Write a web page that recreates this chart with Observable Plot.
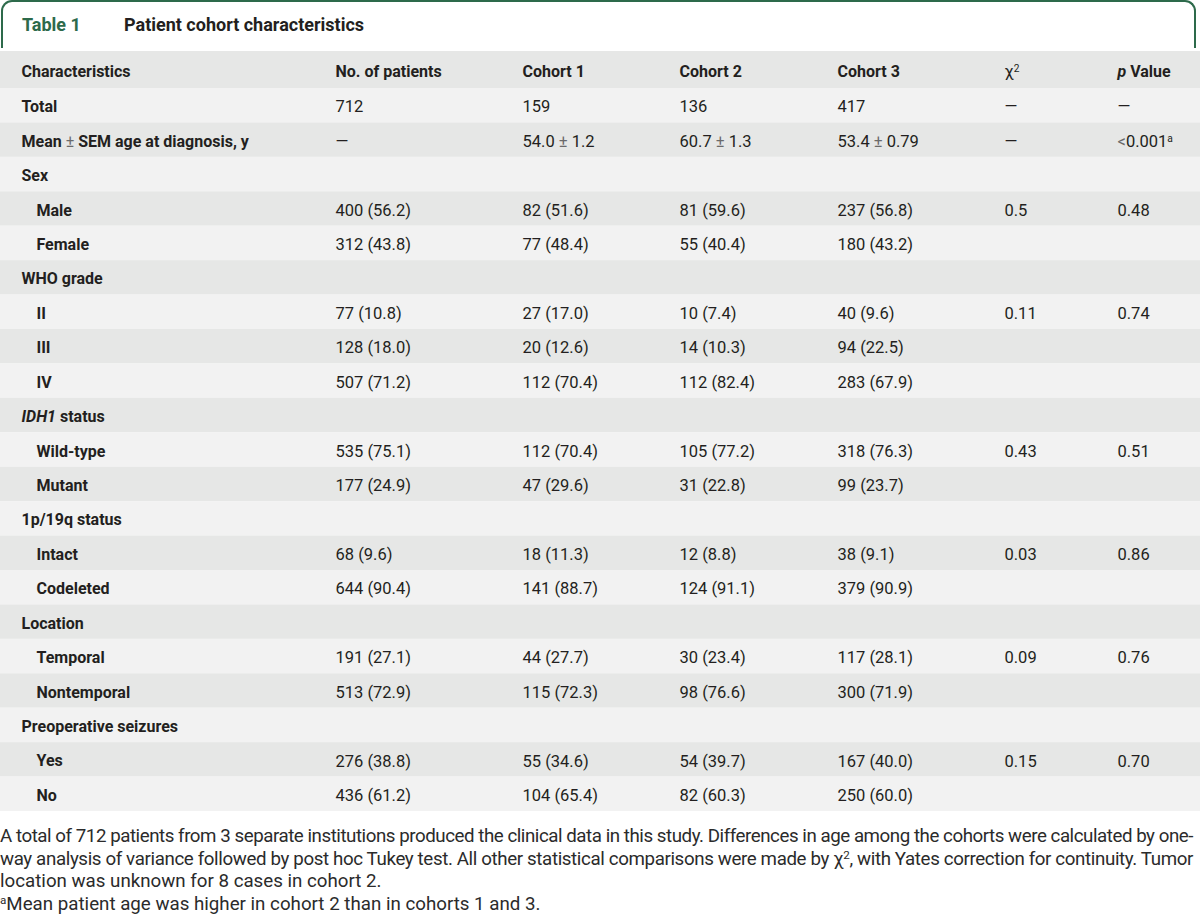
<!DOCTYPE html>
<html>
<head>
<meta charset="utf-8">
<script src="https://cdn.jsdelivr.net/npm/d3@7"></script>
<script src="https://cdn.jsdelivr.net/npm/@observablehq/plot@0.6"></script>
<style>
  html, body { margin: 0; padding: 0; background: #ffffff; }
  body { width: 1200px; font-family: Roboto, "Liberation Sans", sans-serif; color: #231f20; }
  #title {
    box-sizing: border-box; height: 48px; margin: 0 4px 0 1px;
    border: 2.5px solid #2d6a4b; border-bottom: none; border-radius: 11px 11px 0 0;
    position: relative; font-weight: 700; font-size: 18px;
  }
  #title .num { position: absolute; left: 19px; top: 12px; color: #2d6a4b; }
  #title .name { position: absolute; left: 121px; top: 12px; color: #231f20; }
  #header { margin-top: 3px; }
  svg { display: block; }
  #caption { margin-top: 14px; width: 1194px; font-size: 18px; line-height: 22.5px; color: #2b2b2b; }
  #caption div { white-space: nowrap; }
  #caption sup { font-size: 0.62em; line-height: 0; vertical-align: 0.55em; }
</style>
</head>
<body>
<div id="title"><span class="num">Table 1</span><span class="name">Patient cohort characteristics</span></div>
<div id="header"></div>
<div id="body"></div>
<div id="caption">
  <div><span class="fit" id="l1">A total of 712 patients from 3 separate institutions produced the clinical data in this study. Differences in age among the cohorts were calculated by one-</span></div>
  <div><span class="fit">way analysis of variance followed by post hoc Tukey test. All other statistical comparisons were made by χ<sup>2</sup>, with Yates correction for continuity. Tumor</span></div>
  <div><span id="l3">location was unknown for 8 cases in cohort 2.</span></div>
  <div><span><sup>a</sup>Mean patient age was higher in cohort 2 than in cohorts 1 and 3.</span></div>
</div>
<script>
// ---------- data ----------
const columns = ["Characteristics", "No. of patients", "Cohort 1", "Cohort 2", "Cohort 3", "χ²", "p Value"];
const characteristics = ["Total", "Mean ± SEM age at diagnosis, y", "Sex", "Male", "Female", "WHO grade", "II", "III", "IV",
  "IDH1 status", "Wild-type", "Mutant", "1p/19q status", "Intact", "Codeleted", "Location", "Temporal", "Nontemporal",
  "Preoperative seizures", "Yes", "No"];
const level = [0, 0, 0, 1, 1, 0, 1, 1, 1, 0, 1, 1, 0, 1, 1, 0, 1, 1, 0, 1, 1];
const noOfPatients = ["712", "—", "", "400 (56.2)", "312 (43.8)", "", "77 (10.8)", "128 (18.0)", "507 (71.2)", "",
  "535 (75.1)", "177 (24.9)", "", "68 (9.6)", "644 (90.4)", "", "191 (27.1)", "513 (72.9)", "", "276 (38.8)", "436 (61.2)"];
const cohort1 = ["159", "54.0 ± 1.2", "", "82 (51.6)", "77 (48.4)", "", "27 (17.0)", "20 (12.6)", "112 (70.4)", "",
  "112 (70.4)", "47 (29.6)", "", "18 (11.3)", "141 (88.7)", "", "44 (27.7)", "115 (72.3)", "", "55 (34.6)", "104 (65.4)"];
const cohort2 = ["136", "60.7 ± 1.3", "", "81 (59.6)", "55 (40.4)", "", "10 (7.4)", "14 (10.3)", "112 (82.4)", "",
  "105 (77.2)", "31 (22.8)", "", "12 (8.8)", "124 (91.1)", "", "30 (23.4)", "98 (76.6)", "", "54 (39.7)", "82 (60.3)"];
const cohort3 = ["417", "53.4 ± 0.79", "", "237 (56.8)", "180 (43.2)", "", "40 (9.6)", "94 (22.5)", "283 (67.9)", "",
  "318 (76.3)", "99 (23.7)", "", "38 (9.1)", "379 (90.9)", "", "117 (28.1)", "300 (71.9)", "", "167 (40.0)", "250 (60.0)"];
const chiSquare = ["—", "—", "", "0.5", "", "", "0.11", "", "", "", "0.43", "", "", "0.03", "", "", "0.09", "", "", "0.15", ""];
const pValue = ["—", "<0.001ᵃ", "", "0.48", "", "", "0.74", "", "", "", "0.51", "", "", "0.86", "", "", "0.76", "", "", "0.70", ""];

// ---------- layout / style ----------
const colLeft = [21, 335, 522, 679, 837, 1004, 1117]; // left edge of each column, in px of the 1200-wide frame
const indentPx = 15;
const shadeDark = "#e6e7e6", shadeLight = "#f2f2f2";
const ink = "#231f20";
const font = "Roboto, 'Liberation Sans', sans-serif";

const valueCols = [noOfPatients, cohort1, cohort2, cohort3, chiSquare, pValue];

function makeTable(rows, cellsBold, cellsRegular, height, dy) {
  return Plot.plot({
    width: 1200, height, margin: 0,
    style: { fontFamily: font, fontSize: "16px", background: "transparent", overflow: "visible" },
    x: { type: "linear", domain: [0, 1200], range: [0, 1200], axis: null },
    y: { type: "band", domain: rows.map(r => r.key), padding: 0, round: false, axis: null },
    color: { type: "identity" },
    marks: [
      Plot.cell(rows, { y: "key", fill: "shade" }),
      Plot.text(cellsBold, { x: d => colLeft[d.col] + d.indent, y: "key", text: "text", textAnchor: "start",
        fontWeight: 700, fill: ink, fontSize: 16, dy }),
      Plot.text(cellsRegular, { x: d => colLeft[d.col], y: "key", text: "text", textAnchor: "start",
        fontWeight: 400, fill: ink, fontSize: 16.5, dy })
    ]
  });
}

// header
const headRows = [{ key: "head", shade: shadeDark }];
const headBold = columns.map((c, j) => ({ key: "head", col: j, text: c, indent: 0 })).filter(d => d.text !== "χ²");
const headReg = [{ key: "head", col: 5, text: "χ²" }];
const headSvg = makeTable(headRows, headBold, headReg, 37, 2);

// body
const bodyRows = characteristics.map((c, i) => ({ key: "r" + i, shade: i % 2 ? shadeDark : shadeLight }));
const bodyBold = characteristics.map((c, i) => ({ key: "r" + i, col: 0, text: c, indent: level[i] * indentPx }));
const bodyReg = [];
valueCols.forEach((arr, j) => arr.forEach((v, i) => { if (v) bodyReg.push({ key: "r" + i, col: j + 1, text: v }); }));
const bodySvg = makeTable(bodyRows, bodyBold, bodyReg, 723, 1.5);

// rich text: italics, light ± signs, superscripts
function enrich(svg) {
  d3.select(svg).selectAll("text").each(function () {
    const el = d3.select(this);
    const t = this.textContent;
    const parts = [];
    if (t === "IDH1 status") { parts.push({ s: "IDH1", style: "italic" }, { s: " status" }); }
    else if (t === "p Value") { parts.push({ s: "p", style: "italic" }, { s: " Value" }); }
    else if (t === "χ²") { parts.push({ s: "χ" }, { s: "2", sup: true }); }
    else if (t.includes("±")) {
      const [a, b] = t.split("±");
      parts.push({ s: a }, { s: "±", light: true }, { s: b });
    } else if (t.startsWith("<")) {
      parts.push({ s: "<", light: true }, { s: t.slice(1).replace("ᵃ", "") }, { s: "a", sup: true });
    } else return;
    el.text(null);
    for (const p of parts) {
      const ts = el.append("tspan").text(p.s);
      if (p.style) ts.attr("font-style", p.style);
      if (p.light) ts.attr("font-weight", 400).attr("fill", "#6a6a6a");
      if (p.sup) ts.attr("font-size", "0.62em").attr("baseline-shift", "super");
    }
  });
}
enrich(headSvg); enrich(bodySvg);
document.getElementById("header").appendChild(headSvg);
document.getElementById("body").appendChild(bodySvg);

// caption: pick a size between the one that fits the full line and the one that matches the short line,
// then fit the two full lines to the text width with letter spacing
(function fitCaption() {
  const cap = document.getElementById("caption");
  const base = 18;
  const w1 = document.getElementById("l1").getBoundingClientRect().width;
  const w3 = document.getElementById("l3").getBoundingClientRect().width;
  const s1 = base * 1193 / w1, s3 = base * 405 / w3;
  const size = Math.max(14, Math.min(19, Math.sqrt(s1 * s3)));
  cap.style.fontSize = size + "px";
  cap.querySelectorAll(".fit").forEach(span => {
    const w = span.getBoundingClientRect().width;
    const n = span.textContent.length;
    span.style.letterSpacing = ((1193 - w) / n) + "px";
  });
})();
</script>
</body>
</html>
